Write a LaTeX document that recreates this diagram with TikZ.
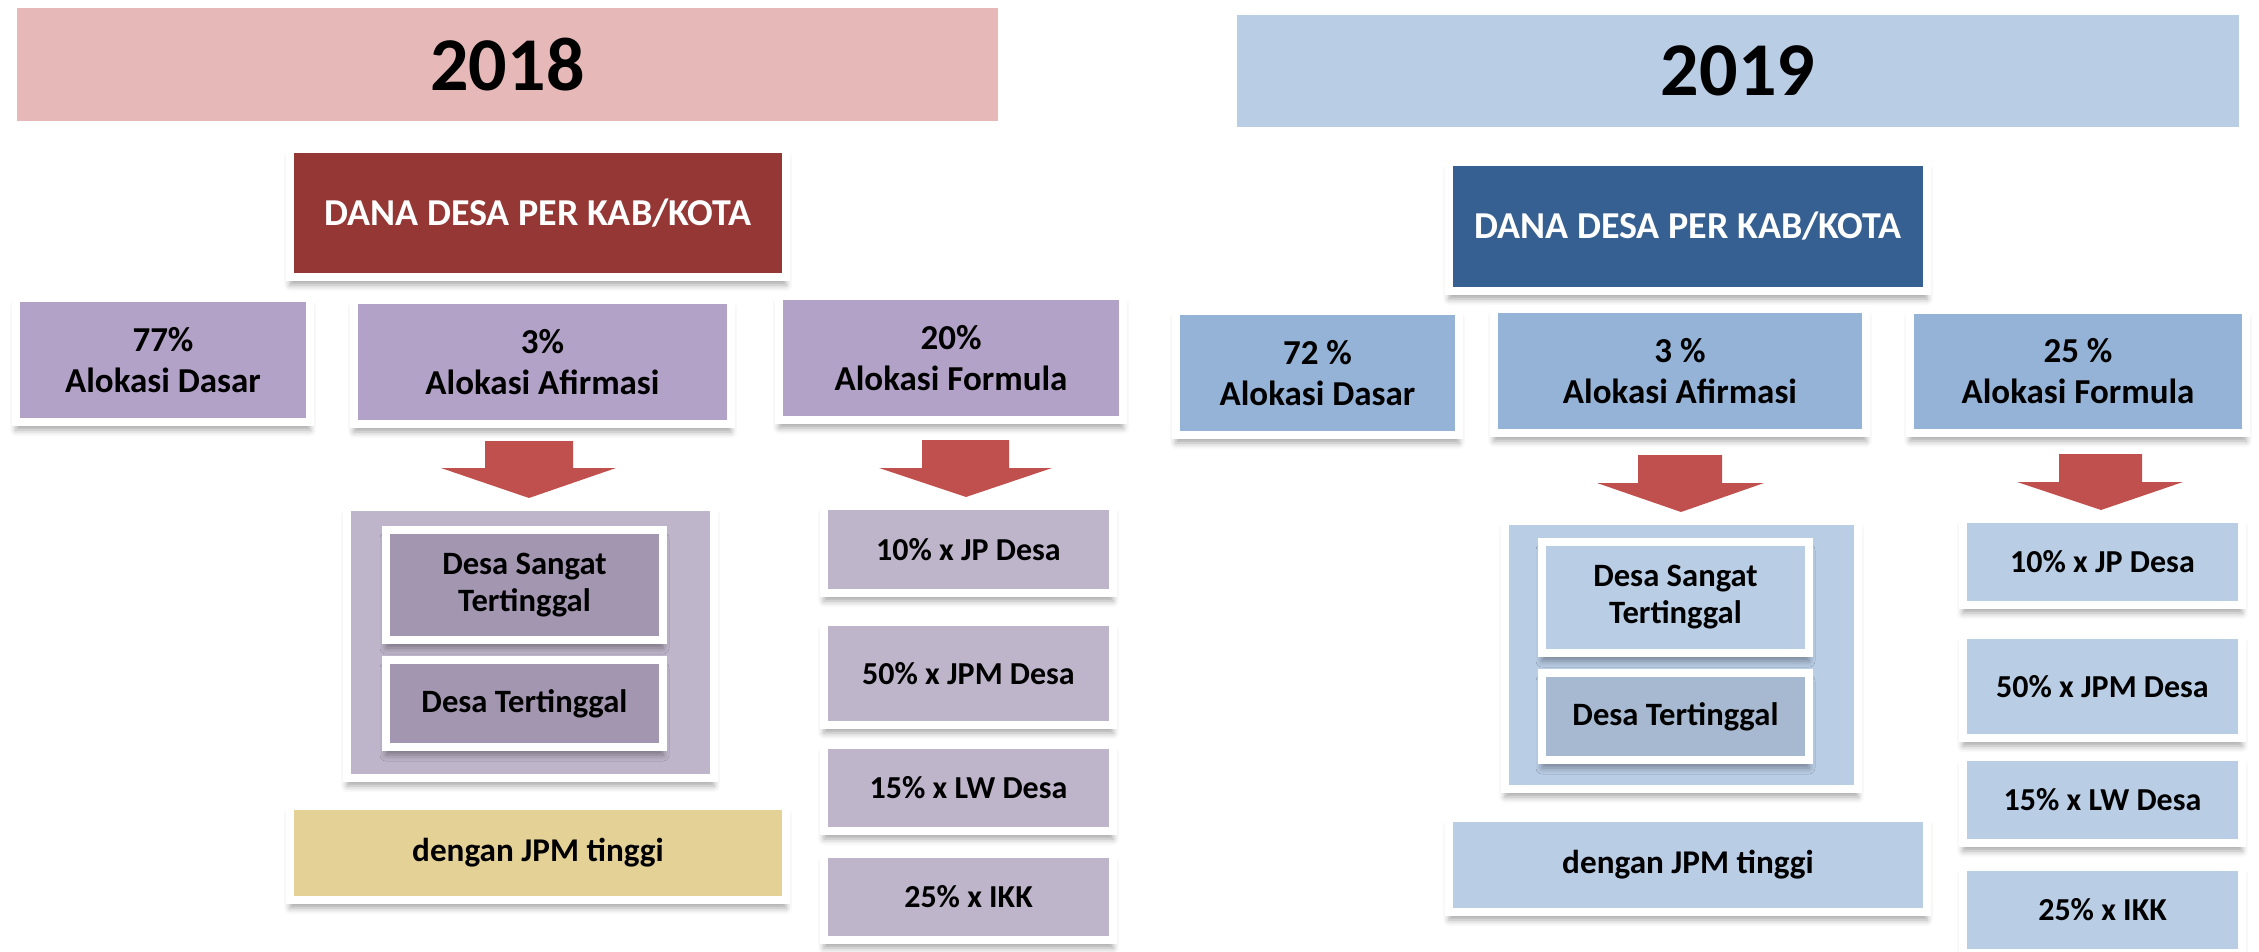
\documentclass[tikz,border=0pt]{standalone}
\usepackage{fontspec}
\setmainfont{Carlito}
\usetikzlibrary{shadows.blur}
\definecolor{pinkbar}{HTML}{E6B9B8}
\definecolor{danared}{HTML}{953735}
\definecolor{lilac}{HTML}{B3A2C7}
\definecolor{lilacpale}{HTML}{BFB5CA}
\definecolor{lilacdark}{HTML}{A396B0}
\definecolor{sand}{HTML}{E4D196}
\definecolor{arrowred}{HTML}{C0504D}
\definecolor{bluebar}{HTML}{B9CDE5}
\definecolor{danablue}{HTML}{376092}
\definecolor{skyblue}{HTML}{95B3D7}
\definecolor{bluedark}{HTML}{A6B9D0}

\begin{document}
\begin{tikzpicture}[x=0.5pt,y=-0.5pt,
  banner/.style={inner sep=0pt, font=\bfseries\fontsize{38}{44}\selectfont},
  box/.style={draw=white, line width=4pt, inner sep=0pt, align=center,
    blur shadow={shadow xshift=0pt, shadow yshift=-4pt, shadow blur radius=3pt, shadow opacity=35},
    font=\bfseries\fontsize{17.5}{20.5}\selectfont},
  dana/.style={box, text=white, font=\bfseries\fontsize{19}{22}\selectfont},
  desabox/.style={box, font=\bfseries\fontsize{16.3}{18.5}\selectfont},
  part/.style={box, font=\bfseries\fontsize{16}{19.5}\selectfont}]
\useasboundingbox (0,0) rectangle (2259,952);

% 2018
\node[banner, fill=pinkbar, minimum width=490.5pt, minimum height=56.5pt] (year18) at (507.5,64.5) {2018};
\node[dana, fill=danared, minimum width=248pt, minimum height=64pt] (dana18) at (538,213) {DANA DESA PER KAB/KOTA};
\node[box, fill=lilac, minimum width=147pt, minimum height=62pt] (dasar18) at (163,360) {77\%\\Alokasi Dasar};
\node[box, fill=lilac, minimum width=188.5pt, minimum height=62pt] (afirmasi18) at (542.5,362) {3\%\\Alokasi Afirmasi};
\node[box, fill=lilac, minimum width=172pt, minimum height=62pt] (formula18) at (951,358) {20\%\\Alokasi Formula};
\fill[arrowred] (485,441) -- (573,441) -- (573,468) -- (616,468) -- (529,498) -- (441,468) -- (485,468) -- cycle;
\fill[arrowred] (922,440) -- (1009,440) -- (1009,468) -- (1052,468) -- (966,497) -- (879,468) -- (922,468) -- cycle;
\node[box, fill=lilacpale, minimum width=183.5pt, minimum height=135.5pt] (group18) at (530.5,642.5) {};
\node[desabox, fill=lilacdark, minimum width=138.5pt, minimum height=55pt] (sangat18) at (524.5,585) {Desa Sangat\\Tertinggal};
\node[desabox, fill=lilacdark, minimum width=138.5pt, minimum height=43.5pt] (tertinggal18) at (524.5,703.5) {Desa Tertinggal};
\node[desabox, fill=sand, minimum width=248pt, minimum height=47pt, font=\bfseries\fontsize{16.6}{19}\selectfont] (jpm18) at (538,853) {dengan JPM tinggi};
\node[part, fill=lilacpale, minimum width=144.5pt, minimum height=43.5pt] (jp18) at (968.5,549.5) {10\% x JP Desa};
\node[part, fill=lilacpale, minimum width=144.5pt, minimum height=51.5pt] (jpmd18) at (968.5,673.5) {50\% x JPM Desa};
\node[part, fill=lilacpale, minimum width=144.5pt, minimum height=43pt] (lw18) at (968.5,788) {15\% x LW Desa};
\node[part, fill=lilacpale, minimum width=144.5pt, minimum height=43pt] (ikk18) at (968.5,897) {25\% x IKK};

% 2019
\node[banner, fill=bluebar, minimum width=501pt, minimum height=56pt] (year19) at (1738,71) {2019};
\node[dana, fill=danablue, minimum width=239pt, minimum height=64.5pt] (dana19) at (1688,226.5) {DANA DESA PER KAB/KOTA};
\node[box, fill=skyblue, minimum width=141.5pt, minimum height=62pt] (dasar19) at (1317.5,373) {72 \%\\Alokasi Dasar};
\node[box, fill=skyblue, minimum width=186pt, minimum height=62pt] (afirmasi19) at (1680,371) {3 \%\\Alokasi Afirmasi};
\node[box, fill=skyblue, minimum width=168pt, minimum height=61.5pt] (formula19) at (2078,371.5) {25 \%\\Alokasi Formula};
\fill[arrowred] (1638,455) -- (1722,455) -- (1722,483) -- (1764,483) -- (1681,512) -- (1597,483) -- (1638,483) -- cycle;
\fill[arrowred] (2059,454) -- (2142,454) -- (2142,482) -- (2183,482) -- (2101,510) -- (2017,482) -- (2059,482) -- cycle;
\node[box, fill=bluebar, minimum width=176.5pt, minimum height=134pt] (group19) at (1681.5,655) {};
\node[desabox, fill=bluebar, minimum width=133.5pt, minimum height=55.5pt] (sangat19) at (1675.5,597.5) {Desa Sangat\\Tertinggal};
\node[desabox, fill=bluedark, minimum width=133.5pt, minimum height=43.5pt] (tertinggal19) at (1675.5,716.5) {Desa Tertinggal};
\node[desabox, fill=bluebar, minimum width=239pt, minimum height=47pt, font=\bfseries\fontsize{16.6}{19}\selectfont] (jpm19) at (1688,865) {dengan JPM tinggi};
\node[part, fill=bluebar, minimum width=139.5pt, minimum height=43pt] (jp19) at (2102.5,562) {10\% x JP Desa};
\node[part, fill=bluebar, minimum width=139.5pt, minimum height=51.5pt] (jpmd19) at (2102.5,686.5) {50\% x JPM Desa};
\node[part, fill=bluebar, minimum width=139.5pt, minimum height=43pt] (lw19) at (2102.5,800) {15\% x LW Desa};
\node[part, fill=bluebar, minimum width=139.5pt, minimum height=43pt] (ikk19) at (2102.5,910) {25\% x IKK};
\end{tikzpicture}
\end{document}
